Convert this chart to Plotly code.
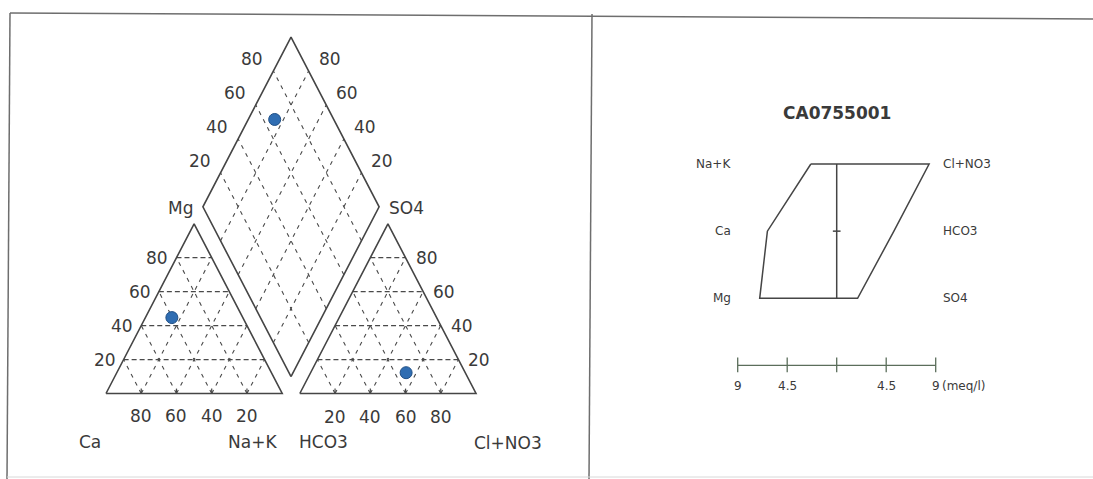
import math
import plotly.graph_objects as go

# ---------------- data ----------------
sample_id = "CA0755001"
cation_names = ["Na+K", "Ca", "Mg"]
cation_meq = [2.35, 6.3, 7.0]          # meq/l
anion_names = ["Cl+NO3", "HCO3", "SO4"]
anion_meq = [8.4, 5.2, 1.9]            # meq/l
grid_levels = [20, 40, 60, 80]          # percent
left_base_labels = ["80", "60", "40", "20"]   # Ca %
right_base_labels = ["20", "40", "60", "80"]  # Cl+NO3 %
scale_ticks = [-9, -4.5, 0, 4.5, 9]
scale_labels = ["9", "4.5", "", "4.5", "9"]
scale_unit = "(meq/l)"

# ---------------- piper geometry ----------------
H = math.sqrt(3) / 2
G = 0.1
LINE = "#454545"
GRID = "#4a4a4a"
TXT = "#3a3a3a"
FONT = "DejaVu Sans"


def cat_xy(nak, ca, mg):
    return (nak + mg / 2, mg * H)


def an_xy(cl, hco3, so4):
    return (1 + G + cl + so4 / 2, so4 * H)


def dia_xy(c, a):
    x1, y1 = cat_xy(*c)
    x2, y2 = an_xy(*a)
    t = (x2 - x1) + (y2 - y1) / (2 * H)
    return (x1 + t / 2, y1 + t * H)


csum = sum(cation_meq)
asum = sum(anion_meq)
cfr = [v / csum for v in cation_meq]   # nak, ca, mg
afr = [v / asum for v in anion_meq]    # cl, hco3, so4

fig = go.Figure()


def add_path(pts_list, color, width, dash=None, xa="x", ya="y"):
    xs, ys = [], []
    for pts in pts_list:
        for p in pts:
            xs.append(p[0]); ys.append(p[1])
        xs.append(None); ys.append(None)
    fig.add_trace(go.Scatter(x=xs, y=ys, mode="lines", xaxis=xa, yaxis=ya,
                             line=dict(color=color, width=width, dash=dash),
                             hoverinfo="skip", showlegend=False))


# grid lines: horizontal ones (denser dashes) and diagonal ones
hgrid, dgrid = [], []
for lv in grid_levels:
    f = lv / 100
    # left triangle
    hgrid.append([cat_xy(0, 1 - f, f), cat_xy(1 - f, 0, f)])
    dgrid.append([cat_xy(f, 1 - f, 0), cat_xy(f, 0, 1 - f)])
    dgrid.append([cat_xy(1 - f, f, 0), cat_xy(0, f, 1 - f)])
    # right triangle
    hgrid.append([an_xy(0, 1 - f, f), an_xy(1 - f, 0, f)])
    dgrid.append([an_xy(f, 1 - f, 0), an_xy(f, 0, 1 - f)])
    dgrid.append([an_xy(1 - f, f, 0), an_xy(0, f, 1 - f)])
    # diamond: constant Ca+Mg and constant Cl+SO4
    dgrid.append([dia_xy((1 - f, f, 0), (0, 1, 0)), dia_xy((1 - f, f, 0), (1, 0, 0))])
    dgrid.append([dia_xy((1, 0, 0), (f, 1 - f, 0)), dia_xy((0, 1, 0), (f, 1 - f, 0))])
add_path(hgrid, GRID, 1.2, dash="5px,3px")
add_path(dgrid, GRID, 1.1, dash="4px,5px")

# base tick marks
ticks = []
for lv in grid_levels:
    f = lv / 100
    ticks.append([(f, 0), (f, 0.025)])
    ticks.append([(1 + G + f, 0), (1 + G + f, 0.025)])
add_path(ticks, LINE, 1.2)

# outlines
outl = [
    [cat_xy(0, 1, 0), cat_xy(1, 0, 0), cat_xy(0, 0, 1), cat_xy(0, 1, 0)],
    [an_xy(0, 1, 0), an_xy(1, 0, 0), an_xy(0, 0, 1), an_xy(0, 1, 0)],
    [dia_xy((1, 0, 0), (0, 1, 0)), dia_xy((1, 0, 0), (1, 0, 0)),
     dia_xy((0, 1, 0), (1, 0, 0)), dia_xy((0, 1, 0), (0, 1, 0)),
     dia_xy((1, 0, 0), (0, 1, 0))],
]
add_path(outl, LINE, 1.6)

# sample points
pc = cat_xy(*cfr)
pa = an_xy(*afr)
pd = dia_xy(cfr, afr)
fig.add_trace(go.Scatter(x=[pc[0], pa[0], pd[0]], y=[pc[1], pa[1], pd[1]], mode="markers",
                         marker=dict(size=12, color="#2f6db2", line=dict(color="#1f4f86", width=1)),
                         hoverinfo="skip", showlegend=False))

ann = []


def label(x, y, text, xa="x", ya="y", size=17, xanchor="center", yanchor="middle",
          xshift=0, yshift=0, bold=False):
    ann.append(dict(x=x, y=y, xref=xa, yref=ya, text=("<b>%s</b>" % text) if bold else text,
                    showarrow=False, xanchor=xanchor, yanchor=yanchor,
                    xshift=xshift, yshift=yshift,
                    font=dict(family=FONT, size=size, color=TXT)))


for i, lv in enumerate(grid_levels):
    f = lv / 100
    # left triangle, left side (Mg)
    p = cat_xy(0, 1 - f, f)
    label(p[0], p[1], str(lv), xanchor="right", xshift=-6)
    # right triangle, right side (SO4)
    p = an_xy(1 - f, 0, f)
    label(p[0], p[1], str(lv), xanchor="left", xshift=8)
    # diamond upper-left edge (Cl+SO4)
    p = dia_xy((0, 1, 0), (f, 1 - f, 0))
    label(p[0], p[1], str(lv), xanchor="right", xshift=-8, yshift=12)
    # diamond upper-right edge (Ca+Mg)
    p = dia_xy((1 - f, f, 0), (1, 0, 0))
    label(p[0], p[1], str(lv), xanchor="left", xshift=8, yshift=12)

for f_txt in left_base_labels:
    f = int(f_txt) / 100
    label(1 - f, 0, f_txt, yshift=-22)
for f_txt in right_base_labels:
    f = int(f_txt) / 100
    label(1 + G + f, 0, f_txt, yshift=-23)

# corner labels
label(0, 0, cation_names[1], xshift=-16, yshift=-48)
label(1, 0, cation_names[0], xshift=-30, yshift=-48)
label(0.5, H, cation_names[2], xshift=-14, yshift=16)
label(1 + G, 0, anion_names[1], xshift=24, yshift=-48)
label(2 + G, 0, anion_names[0], xshift=32, yshift=-49)
label(1.5 + G, H, anion_names[2], xshift=19, yshift=16)

# ---------------- stiff diagram ----------------
rows = [0, 1, 2]
left_x = [-v for v in cation_meq]
right_x = anion_meq
poly_x = [left_x[0], right_x[0], right_x[1], right_x[2], left_x[2], left_x[1], left_x[0]]
poly_y = [0, 0, 1, 2, 2, 1, 0]
fig.add_trace(go.Scatter(x=poly_x, y=poly_y, mode="lines", xaxis="x2", yaxis="y2",
                         line=dict(color=LINE, width=1.5), hoverinfo="skip", showlegend=False))
add_path([[(0, 0), (0, 2)], [(-0.35, 1), (0.35, 1)]], LINE, 1.5, xa="x2", ya="y2")

# scale bar
sb = [[(scale_ticks[0], 3), (scale_ticks[-1], 3)]]
for t in scale_ticks:
    sb.append([(t, 2.88), (t, 3.1)])
add_path(sb, "#5b6e5b", 1.3, xa="x2", ya="y2")
for t, s in zip(scale_ticks, scale_labels):
    if s:
        label(t, 3.3, s, xa="x2", ya="y2", size=12)
label(scale_ticks[-1], 3.3, scale_unit, xa="x2", ya="y2", size=12, xanchor="left", xshift=4)

for r, n in zip(rows, cation_names):
    label(-9.4, r, n, xa="x2", ya="y2", size=12, xanchor="right")
for r, n in zip(rows, anion_names):
    label(9.5, r, n, xa="x2", ya="y2", size=12, xanchor="left")
label(0, -0.76, sample_id, xa="x2", ya="y2", size=17, bold=True)

# ---------------- frame ----------------
W, HT = 1093, 479


def pline(x0, y0, x1, y1, color="#6e6e6e", w=1.5):
    return dict(type="line", xref="paper", yref="paper",
                x0=x0 / W, y0=1 - y0 / HT, x1=x1 / W, y1=1 - y1 / HT,
                line=dict(color=color, width=w))


shapes = [
    pline(10, 13, 1093, 19),
    pline(10, 13, 7, 479),
    pline(592, 14, 589, 479),
    pline(7, 477, 1093, 477, color="#d8d8d8", w=1),
]

fig.update_layout(
    width=W, height=HT, margin=dict(l=0, r=0, t=0, b=0),
    paper_bgcolor="white", plot_bgcolor="white", showlegend=False,
    xaxis=dict(range=[-106 / 176.2, (W - 106) / 176.2], visible=False, fixedrange=True),
    yaxis=dict(range=[(393.5 - HT) / 196, 393.5 / 196], visible=False, fixedrange=True),
    xaxis2=dict(range=[-836.7 / 11, (W - 836.7) / 11], visible=False, overlaying="x", anchor="y2"),
    yaxis2=dict(range=[(HT - 164) / 67.15, -164 / 67.15], visible=False, overlaying="y", anchor="x2"),
    annotations=ann, shapes=shapes,
)

fig.write_html("out.html", config={"displayModeBar": False, "staticPlot": True},
               post_script="document.body.style.margin='0';")
